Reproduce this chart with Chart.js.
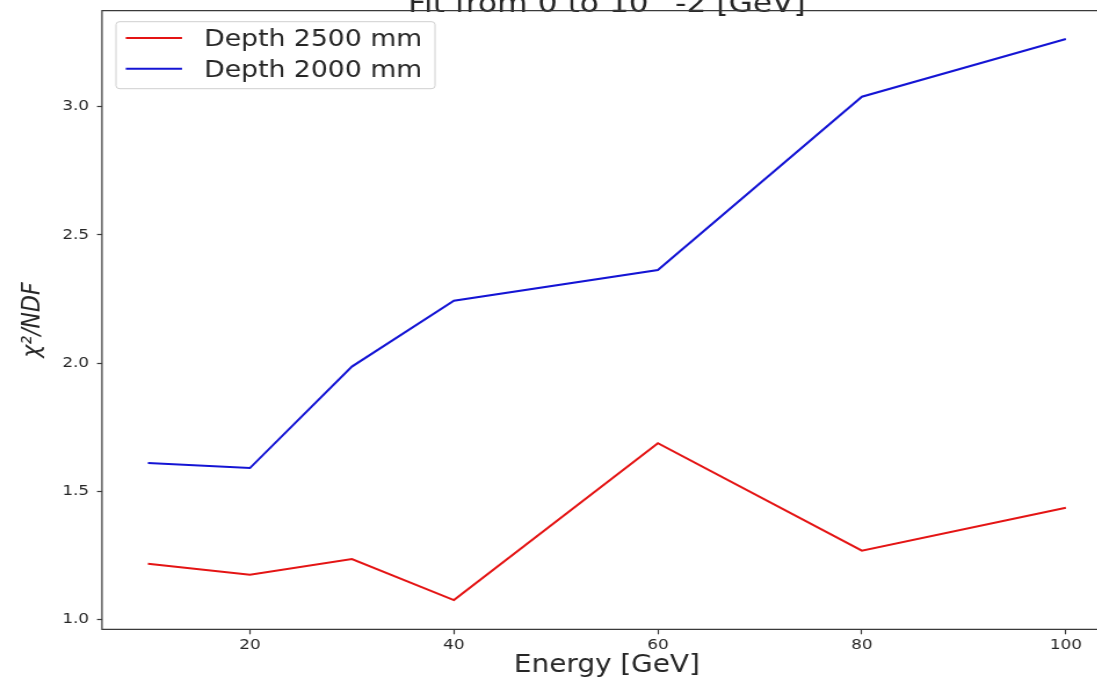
<!DOCTYPE html>
<html>
<head>
<meta charset="utf-8">
<script src="https://cdn.jsdelivr.net/npm/chart.js@4.4.1/dist/chart.umd.min.js"></script>
<style>
  html, body { margin: 0; padding: 0; background: #ffffff; overflow: hidden; }
  #clip { position: relative; width: 1120px; height: 681px; overflow: hidden; background: #ffffff; }
  /* figure is drawn at a narrower width and stretched horizontally */
  #wrap { position: absolute; left: 0; top: -40px; width: 980px; height: 721px; transform: scaleX(1.16); transform-origin: 0 0; }
</style>
</head>
<body>
<div id="clip"><div id="wrap"><canvas id="c"></canvas></div></div>
<script>
// Energy points [GeV]
const energies = [10, 20, 30, 40, 60, 80, 100];
// chi2/NDF for each depth
const depth2500 = [1.217, 1.174, 1.235, 1.075, 1.687, 1.268, 1.435];
const depth2000 = [1.610, 1.590, 1.986, 2.243, 2.363, 3.039, 3.264];
const seriesLabels = ['Depth 2500 mm', 'Depth 2000 mm'];
const seriesColors = ['#e41414', '#1414d4'];
// axis ticks
const xTickValues = [20, 40, 60, 80, 100];
const yTickValues = [1.0, 1.5, 2.0, 2.5, 3.0];
const titleText = 'Fit from 0 to 10^-2 [GeV]';
const xTitle = 'Energy [GeV]';
const yTitle = 'χ²/NDF';

const FONT = "'DejaVu Sans', 'Liberation Sans', sans-serif";
const INK = '#262626';
const SPINE = '#3a3a3a';

const toPoints = ys => energies.map((x, i) => ({ x: x, y: ys[i] }));

// left, top and bottom spines (the right one lies past the visible edge)
const framePlugin = {
  id: 'frame',
  afterDatasetsDraw(chart) {
    const { ctx, chartArea: a } = chart;
    ctx.save();
    ctx.strokeStyle = SPINE;
    ctx.lineWidth = 1.2;
    ctx.beginPath();
    ctx.moveTo(a.right, a.top);
    ctx.lineTo(a.left, a.top);
    ctx.lineTo(a.left, a.bottom);
    ctx.lineTo(a.right, a.bottom);
    ctx.stroke();
    ctx.restore();
  }
};

// boxed legend in the upper-left corner of the axes
const innerLegend = {
  id: 'innerLegend',
  afterDraw(chart) {
    const { ctx, chartArea: a } = chart;
    const bx = a.left + 12.1, by = a.top + 11, bw = 275, bh = 67;
    ctx.save();
    ctx.beginPath();
    ctx.roundRect(bx, by, bw, bh, 3);
    ctx.fillStyle = 'rgba(255,255,255,0.85)';
    ctx.fill();
    ctx.strokeStyle = '#cfcfcf';
    ctx.lineWidth = 1;
    ctx.stroke();
    ctx.font = '23px ' + FONT;
    ctx.textBaseline = 'alphabetic';
    ctx.textAlign = 'left';
    chart.data.datasets.forEach((ds, i) => {
      const y = by + 16.3 + i * 30.7;
      ctx.beginPath();
      ctx.moveTo(bx + 8.4, y);
      ctx.lineTo(bx + 56.9, y);
      ctx.strokeStyle = ds.borderColor;
      ctx.lineWidth = 2;
      ctx.stroke();
      ctx.fillStyle = INK;
      ctx.fillText(ds.label, bx + 75.9, y + 8);
    });
    ctx.restore();
  }
};

new Chart(document.getElementById('c'), {
  type: 'line',
  data: {
    datasets: [
      { label: seriesLabels[0], data: toPoints(depth2500), borderColor: seriesColors[0], backgroundColor: seriesColors[0] },
      { label: seriesLabels[1], data: toPoints(depth2000), borderColor: seriesColors[1], backgroundColor: seriesColors[1] }
    ]
  },
  options: {
    responsive: true,
    maintainAspectRatio: false,
    animation: false,
    devicePixelRatio: 1,
    layout: { padding: { top: 0, right: 21.6, bottom: 0, left: 0 } },
    elements: {
      point: { radius: 0, hoverRadius: 0 },
      line: { borderWidth: 2, tension: 0, fill: false }
    },
    plugins: {
      legend: { display: false },
      tooltip: { enabled: false },
      title: {
        display: true,
        text: titleText,
        fullSize: false,
        color: INK,
        font: { family: FONT, size: 27, lineHeight: 1, weight: 'normal' },
        padding: { top: 31.2, bottom: -7.5 }
      }
    },
    scales: {
      x: {
        type: 'linear',
        min: 5.5,
        max: 104.5,
        afterBuildTicks: s => { s.ticks = xTickValues.map(v => ({ value: v })); },
        afterFit: s => { s.height = 51.7; },
        grid: { drawOnChartArea: false, drawTicks: true, tickLength: 5, tickColor: SPINE, tickWidth: 1.2 },
        border: { display: false },
        ticks: { color: INK, padding: 2, maxRotation: 0, font: { family: FONT, size: 14.5 }, callback: v => String(v) },
        title: { display: true, text: xTitle, color: INK, font: { family: FONT, size: 24 }, padding: { top: 0, bottom: 0.6 } }
      },
      y: {
        type: 'linear',
        min: 0.961,
        max: 3.3746,
        afterBuildTicks: s => { s.ticks = yTickValues.map(v => ({ value: v })); },
        afterFit: s => { s.width = 87.93; },
        grid: { drawOnChartArea: false, drawTicks: true, tickLength: 4.3, tickColor: SPINE, tickWidth: 1.2 },
        border: { display: false },
        ticks: { color: INK, padding: 6.9, font: { family: FONT, size: 14.5 }, callback: v => Number(v).toFixed(1) },
        title: { display: true, text: yTitle, color: INK, font: { family: FONT, size: 22, style: 'italic' }, padding: { top: 15, bottom: 0 } }
      }
    }
  },
  plugins: [framePlugin, innerLegend]
});
</script>
</body>
</html>
